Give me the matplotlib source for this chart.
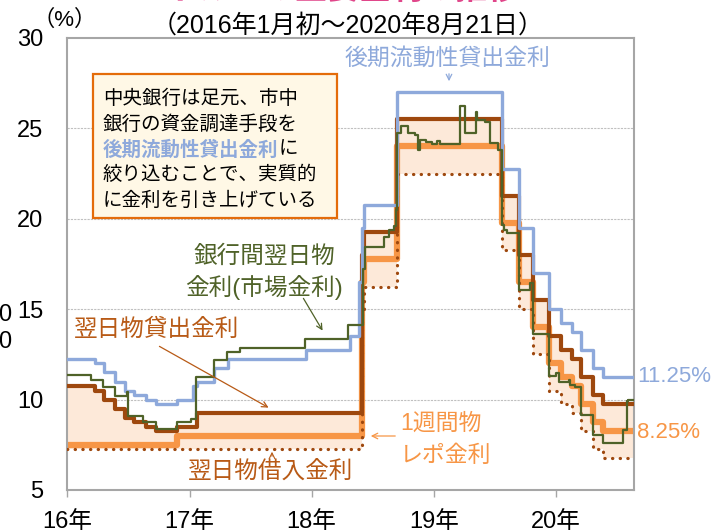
import matplotlib
matplotlib.use('Agg')
import matplotlib.pyplot as plt
import pandas as pd
from matplotlib.patches import Rectangle
from matplotlib.text import Annotation

plt.rcParams['font.family'] = ['Liberation Sans', 'Noto Sans CJK JP']

end_date = '2020-08-21'

# late liquidity window lending rate
llw_dates = ['2016-01-01', '2016-03-24', '2016-04-21', '2016-05-24', '2016-06-21',
             '2016-07-19', '2016-08-23', '2016-09-22', '2016-11-24', '2017-01-11',
             '2017-01-24', '2017-03-16', '2017-04-26', '2017-12-14', '2018-04-25',
             '2018-05-23', '2018-06-01', '2018-06-07', '2018-09-13', '2019-07-25',
             '2019-09-12', '2019-10-24', '2019-12-11', '2020-01-16', '2020-02-19',
             '2020-03-17', '2020-04-22', '2020-05-21']
llw_rates = [12.25, 12.0, 11.5, 11.0, 10.5, 10.25, 10.0, 9.75, 10.0, 10.75,
             11.0, 11.75, 12.25, 12.75, 13.5, 16.5, 19.5, 20.75, 27.0, 22.75,
             19.5, 17.0, 15.0, 14.25, 13.75, 12.75, 11.75, 11.25]

# overnight lending rate
lending_dates = ['2016-01-01', '2016-03-24', '2016-04-21', '2016-05-24', '2016-06-21',
                 '2016-07-19', '2016-08-23', '2016-09-22', '2016-11-24', '2017-01-24',
                 '2018-06-01', '2018-06-07', '2018-09-13', '2019-07-25', '2019-09-12',
                 '2019-10-24', '2019-12-11', '2020-01-16', '2020-02-19', '2020-03-17',
                 '2020-04-22', '2020-05-21']
lending_rates = [10.75, 10.5, 10.0, 9.5, 9.0, 8.75, 8.5, 8.25, 8.5, 9.25,
                 18.0, 19.25, 25.5, 21.25, 18.0, 15.5, 13.5, 12.75, 12.25, 11.25,
                 10.25, 9.75]

# one-week repo rate
repo_dates = ['2016-01-01', '2016-11-24', '2018-06-01', '2018-06-07', '2018-09-13',
              '2019-07-25', '2019-09-12', '2019-10-24', '2019-12-11', '2020-01-16',
              '2020-02-19', '2020-03-17', '2020-04-22', '2020-05-21']
repo_rates = [7.5, 8.0, 16.5, 17.75, 24.0, 19.75, 16.5, 14.0, 12.0, 11.25,
              10.75, 9.75, 8.75, 8.25]

# overnight borrowing rate
borrowing_dates = ['2016-01-01', '2018-06-01', '2018-06-07', '2018-09-13', '2019-07-25',
                   '2019-09-12', '2019-10-24', '2019-12-11', '2020-01-16', '2020-02-19',
                   '2020-03-17', '2020-04-22', '2020-05-21']
borrowing_rates = [7.25, 15.0, 16.25, 22.5, 18.25, 15.0, 12.5, 10.5, 9.75, 9.25,
                   8.25, 7.25, 6.75]

# interbank overnight (market) rate
interbank_dates = ['2016-01-01', '2016-03-14', '2016-04-19', '2016-05-22', '2016-06-27',
                   '2016-07-01', '2016-08-14', '2016-09-23', '2016-10-26', '2016-11-24',
                   '2017-01-04', '2017-01-19', '2017-03-14', '2017-04-23', '2017-06-01',
                   '2017-12-13', '2018-04-20', '2018-06-02', '2018-06-10', '2018-08-04',
                   '2018-08-20', '2018-09-05', '2018-09-10', '2018-09-14', '2018-09-24',
                   '2018-10-15', '2018-11-06', '2018-11-14', '2018-11-21', '2018-12-09',
                   '2018-12-26', '2019-01-11', '2019-01-18', '2019-03-20', '2019-04-05',
                   '2019-05-06', '2019-05-11', '2019-06-02', '2019-06-17', '2019-07-12',
                   '2019-07-25', '2019-07-29', '2019-08-07', '2019-09-12', '2019-10-14',
                   '2019-10-24', '2019-12-11', '2020-01-02', '2020-01-11', '2020-02-09',
                   '2020-02-13', '2020-02-26', '2020-03-17', '2020-04-22', '2020-05-21',
                   '2020-07-19', '2020-07-31', '2020-08-04']
interbank_rates = [11.35, 11.1, 10.7, 10.2, 10.4, 9.1, 8.75, 8.35, 8.4, 8.75,
                   8.9, 11.25, 12.2, 12.65, 12.85, 13.35, 14.1, 17.2, 18.45, 19.0,
                   19.4, 19.6, 20.5, 24.75, 25.15, 24.75, 24.65, 23.8, 24.35, 24.27,
                   24.15, 24.3, 24.15, 26.25, 24.75, 25.93, 25.48, 25.38, 24.2, 23.8,
                   19.67, 19.4, 19.2, 16.07, 16.44, 13.65, 11.3, 11.46, 11.0, 11.1,
                   10.8, 10.7, 9.15, 8.04, 7.58, 8.32, 9.9, 10.0]

year_ticks = ['2016-01-01', '2017-01-01', '2018-01-01', '2019-01-01', '2020-01-01']
year_labels = ['16年', '17年', '18年', '19年', '20年']
y_ticks = [5, 10, 15, 20, 25, 30]

blue = '#8EA9DB'
brown = '#9E480E'
brown_text = '#B85A16'
orange = '#F79646'
green = '#4F6228'
corridor = '#FDE9D9'
pink = '#E0468A'


def step_series(dates, rates):
    return pd.Series(rates + [rates[-1]], index=pd.to_datetime(dates + [end_date]))


def fxy(x, y):
    # pixel position in the 712x531 picture -> figure fraction
    return x / 712, 1 - y / 531


llw = step_series(llw_dates, llw_rates)
lending = step_series(lending_dates, lending_rates)
repo = step_series(repo_dates, repo_rates)
borrowing = step_series(borrowing_dates, borrowing_rates)
interbank = step_series(interbank_dates, interbank_rates)

fig = plt.figure(figsize=(7.12, 5.31), dpi=100)
ax = fig.add_axes([67 / 712, 41 / 531, 567 / 712, 452 / 531])

both = lending.index.union(borrowing.index)
ax.fill_between(both, borrowing.reindex(both).ffill(), lending.reindex(both).ffill(),
                step='post', color=corridor, lw=0, zorder=1)

ax.plot(repo.index, repo.values, drawstyle='steps-post', color=orange, lw=4.5, zorder=2)
ax.plot(borrowing.index, borrowing.values, drawstyle='steps-post', color=brown, lw=2.3,
        linestyle=(0, (0.1, 2.3)), dash_capstyle='round', zorder=3)
ax.plot(lending.index, lending.values, drawstyle='steps-post', color=brown, lw=3, zorder=3)
ax.plot(llw.index, llw.values, drawstyle='steps-post', color=blue, lw=2.4, zorder=4)
ax.plot(interbank.index, interbank.values, drawstyle='steps-post', color=green, lw=1.6, zorder=5)

ax.set_xlim(pd.Timestamp('2016-01-01'), pd.Timestamp(end_date))
ax.set_ylim(5, 30)
ax.set_xticks(pd.to_datetime(year_ticks))
ax.set_xticklabels(year_labels, fontsize=17)
ax.set_yticks(y_ticks)
ax.set_yticklabels([str(v) for v in y_ticks], fontsize=17)
ax.tick_params(axis='y', length=0, pad=17)
ax.tick_params(axis='x', length=5, width=1, color='#A6A6A6', pad=10)
for s in ax.spines.values():
    s.set_color('#A6A6A6')
    s.set_linewidth(1.5)
for v in [10, 15, 20, 25]:
    ax.axhline(v, color='#C0C0C0', lw=0.8, linestyle=(0, (2, 1)), zorder=0.5)

# titles (the top one is cut off in the picture)
fig.text(*fxy(343, -1), 'トルコの主要金利の推移', color=pink, fontsize=23, weight='bold',
         ha='center', va='baseline')
fig.text(*fxy(348, 26), '（2016年1月初～2020年8月21日）', fontsize=18, ha='center', va='center')
fig.text(*fxy(33, 20), '（%）', fontsize=16, ha='left', va='center')
fig.text(*fxy(11, 315), '0', fontsize=17, ha='right', va='center')
fig.text(*fxy(11, 342), '0', fontsize=17, ha='right', va='center')

# explanation box
fig.add_artist(Rectangle(fxy(93, 218), 244 / 712, 144 / 531, transform=fig.transFigure,
                         facecolor='#FFF8E6', edgecolor='#E46C0A', lw=1.6, zorder=5))
box_lines = ['中央銀行は足元、市中', '銀行の資金調達手段を', None,
             '絞り込むことで、実質的', 'に金利を引き上げている']
for i, line in enumerate(box_lines):
    y = 99 + 25.4 * i
    if line is None:
        t = fig.text(*fxy(103, y), '後期流動性貸出金利', fontsize=14, color=blue,
                     weight='bold', va='center', zorder=6)
        fig.add_artist(Annotation('に', xy=(1, 0.5), xycoords=t, fontsize=14,
                                  ha='left', va='center', zorder=6))
    else:
        fig.text(*fxy(103, y), line, fontsize=14, va='center', zorder=6)

# series labels
fig.text(*fxy(448, 58), '後期流動性貸出金利', fontsize=16.5, color=blue, ha='center', va='center')
fig.add_artist(Annotation('', xy=fxy(449, 84), xytext=fxy(449, 71), xycoords='figure fraction',
                          arrowprops=dict(arrowstyle='->', color=blue, lw=0.9)))

fig.text(*fxy(264, 257), '銀行間翌日物', fontsize=17, color=green, ha='center', va='center')
fig.text(*fxy(264, 287), '金利(市場金利)', fontsize=17, color=green, ha='center', va='center')
fig.add_artist(Annotation('', xy=fxy(324, 333), xytext=fxy(302, 296), xycoords='figure fraction',
                          arrowprops=dict(arrowstyle='->', color=green, lw=0.9)))

fig.text(*fxy(157, 330), '翌日物貸出金利', fontsize=17, color=brown_text, ha='center', va='center')
fig.add_artist(Annotation('', xy=fxy(271, 409), xytext=fxy(157, 345), xycoords='figure fraction',
                          arrowprops=dict(arrowstyle='->', color=brown_text, lw=0.9)))

fig.text(*fxy(271, 472), '翌日物借入金利', fontsize=17, color=brown_text, ha='center', va='center')
fig.add_artist(Annotation('', xy=fxy(272, 449), xytext=fxy(272, 459), xycoords='figure fraction',
                          arrowprops=dict(arrowstyle='->', color=brown_text, lw=0.8)))

fig.text(*fxy(400, 423), '1週間物', fontsize=16.5, color=orange, ha='left', va='center')
fig.text(*fxy(400, 455), 'レポ金利', fontsize=16.5, color=orange, ha='left', va='center')
fig.add_artist(Annotation('', xy=fxy(368, 436), xytext=fxy(398, 436), xycoords='figure fraction',
                          arrowprops=dict(arrowstyle='->', color=orange, lw=0.9)))

fig.text(*fxy(637, 377), '11.25%', fontsize=16, color=blue, ha='left', va='center')
fig.text(*fxy(637, 432), '8.25%', fontsize=16, color=orange, ha='left', va='center')

fig.savefig('out.png', dpi=100)
